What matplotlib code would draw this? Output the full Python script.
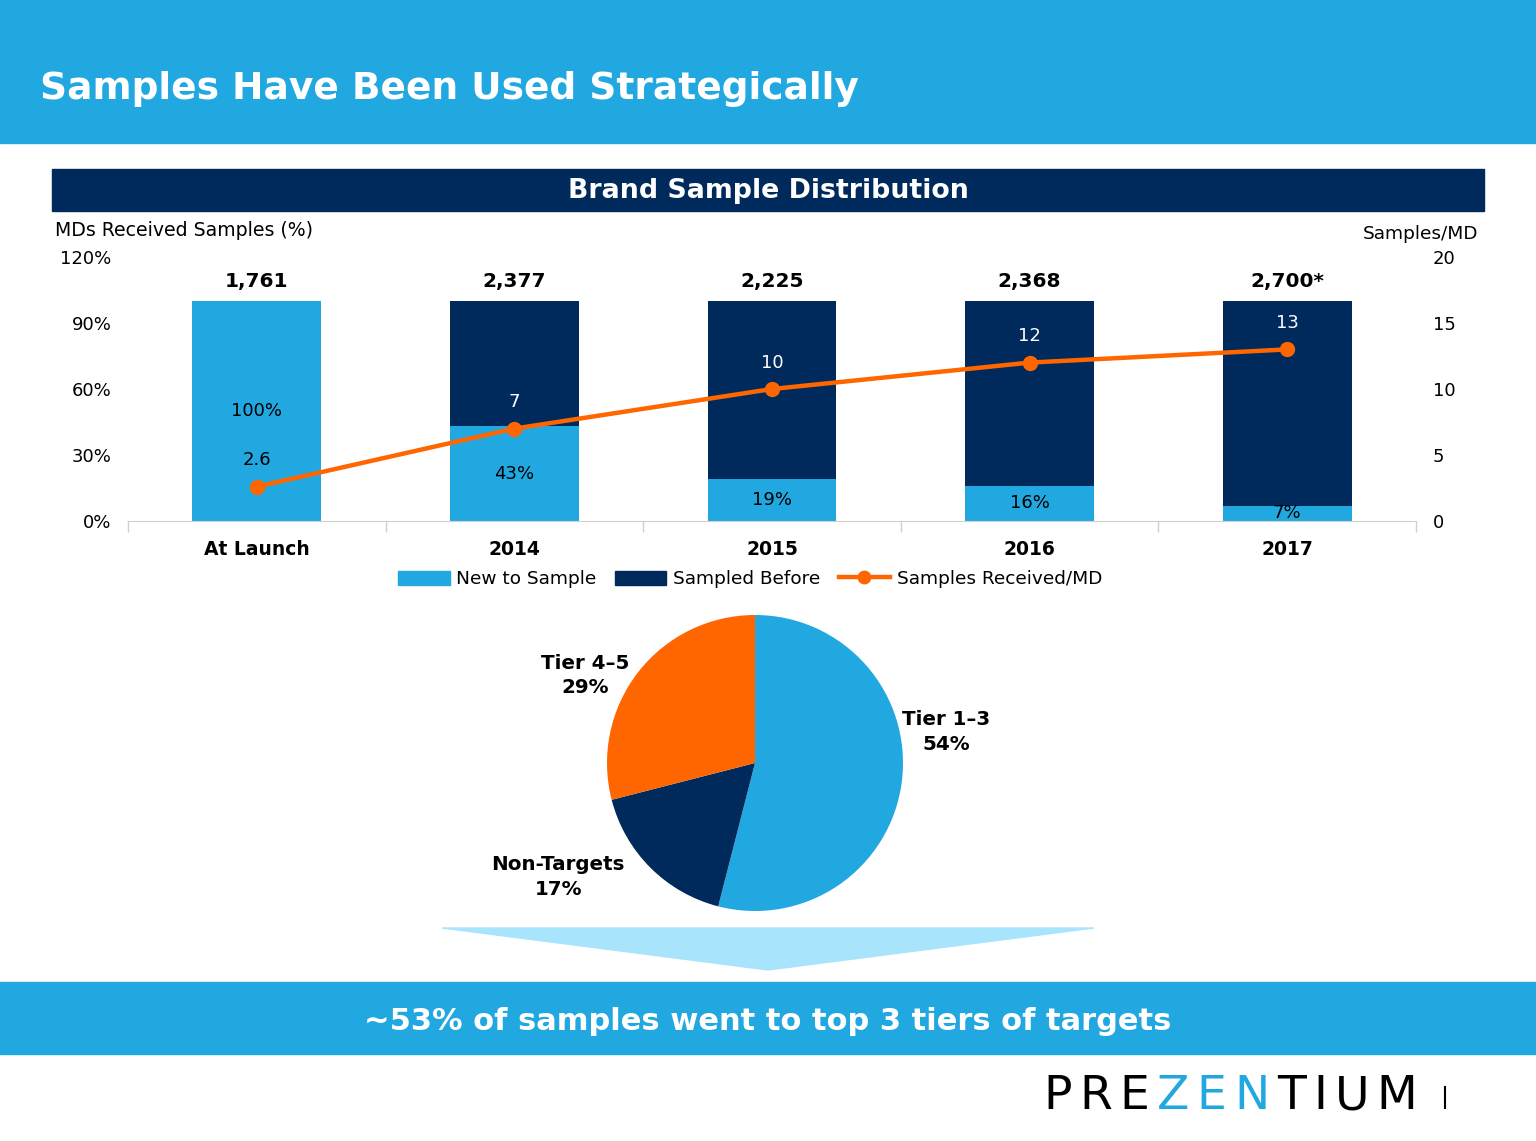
import matplotlib
matplotlib.use("Agg")
import matplotlib.pyplot as plt
from matplotlib.patches import Rectangle, Polygon, Patch
from matplotlib.lines import Line2D

plt.rcParams['font.family'] = ['DejaVu Sans']

# ---------------- data ----------------
categories = ["At Launch", "2014", "2015", "2016", "2017"]
new_to_sample = [100, 43, 19, 16, 7]
sampled_before = [0, 57, 81, 84, 93]
samples_per_md = [2.6, 7, 10, 12, 13]
samples_per_md_labels = ["2.6", "7", "10", "12", "13"]
totals = ["1,761", "2,377", "2,225", "2,368", "2,700*"]
left_ticks = [0, 30, 60, 90, 120]
right_ticks = [0, 5, 10, 15, 20]

pie_labels = ["Tier 1\u20133", "Non-Targets", "Tier 4\u20135"]
pie_values = [54, 17, 29]

title = "Samples Have Been Used Strategically"
chart_title = "Brand Sample Distribution"
footer = "~53% of samples went to top 3 tiers of targets"
logo_parts = [("PRE", "black"), ("ZEN", "#22A8E0"), ("TIUM", "black")]

# ---------------- colours ----------------
LBLUE = "#22A8E0"
NAVY = "#002A5C"
ORANGE = "#FF6600"
ARROW = "#A8E4FB"

W, H = 1536, 1141
fig = plt.figure(figsize=(W / 100, H / 100), dpi=100)


def fx(x):
    return x / W


def fy(y):
    return 1 - y / H


def rect(x0, y0, x1, y1, color):
    fig.patches.append(Rectangle((fx(x0), fy(y1)), fx(x1) - fx(x0), fy(y0) - fy(y1),
                                 transform=fig.transFigure, color=color, zorder=0))


# top banner
rect(0, 0, W, 143, LBLUE)
fig.text(fx(40), fy(99), title, color="white", fontsize=27, fontweight="bold",
         ha="left", va="baseline")

# chart title banner
rect(52, 169, 1484, 211, NAVY)
fig.text(fx(768), fy(191), chart_title, color="white", fontsize=19.3, fontweight="bold",
         ha="center", va="center")

# ---------------- bar + line chart ----------------
ax = fig.add_axes([fx(128), fy(521), fx(1416) - fx(128), fy(257) - fy(521)])
xs = list(range(len(categories)))
ax.bar(xs, new_to_sample, width=0.5, color=LBLUE, zorder=2)
ax.bar(xs, sampled_before, width=0.5, bottom=new_to_sample, color=NAVY, zorder=2)
ax.set_xlim(-0.5, len(categories) - 0.5)
ax.set_ylim(0, 120)
ax.set_yticks(left_ticks)
ax.set_yticklabels([f"{v}%" for v in left_ticks])
ax.tick_params(axis="y", length=0, pad=12, labelsize=13)
ax.set_xticks(xs)
ax.set_xticklabels(categories, fontweight="bold", fontsize=13.5)
ax.tick_params(axis="x", which="major", length=0, pad=14)
ax.set_xticks([x - 0.5 for x in range(len(categories) + 1)], minor=True)
ax.tick_params(axis="x", which="minor", length=8, color="#D0D0D0", width=1)
for s in ["top", "left", "right"]:
    ax.spines[s].set_visible(False)
ax.spines["bottom"].set_color("#D0D0D0")
ax.patch.set_alpha(0)

for x, v in zip(xs, new_to_sample):
    ax.text(x, v / 2, f"{v}%", ha="center", va="center", fontsize=13, color="black", zorder=5)
for x, nv, sv, t in zip(xs, new_to_sample, sampled_before, totals):
    ax.annotate(t, (x, nv + sv), xytext=(0, 14), textcoords="offset points",
                ha="center", va="center", fontsize=14.5, fontweight="bold")

ax2 = ax.twinx()
ax2.set_ylim(0, 20)
ax2.set_yticks(right_ticks)
ax2.tick_params(axis="y", length=0, pad=12, labelsize=13)
for s in ["top", "left", "right", "bottom"]:
    ax2.spines[s].set_visible(False)
ax2.plot(xs, samples_per_md, color=ORANGE, lw=3.2, marker="o", markersize=10, zorder=4)
for i, (x, v, lab) in enumerate(zip(xs, samples_per_md, samples_per_md_labels)):
    col = "black" if i == 0 else "white"
    ax2.annotate(lab, (x, v), xytext=(0, 19), textcoords="offset points",
                 ha="center", va="center", fontsize=13, color=col)

fig.text(fx(55), fy(231), "MDs Received Samples (%)", fontsize=13.6, ha="left", va="center")
fig.text(fx(1478), fy(234), "Samples/MD", fontsize=13.3, ha="right", va="center")

handles = [Patch(color=LBLUE, label="New to Sample"),
           Patch(color=NAVY, label="Sampled Before"),
           Line2D([], [], color=ORANGE, lw=3.2, marker="o", markersize=9,
                  label="Samples Received/MD")]
fig.legend(handles=handles, loc="center", bbox_to_anchor=(fx(750), fy(579)), ncol=3,
           frameon=False, fontsize=13.3, handlelength=2.8, handleheight=0.8,
           columnspacing=1.0, handletextpad=0.35)

# ---------------- pie ----------------
r = 148
pax = fig.add_axes([fx(755 - r), fy(763 + r), fx(2 * r), fx(2 * r) * W / H])
pax.pie(pie_values, colors=[LBLUE, NAVY, ORANGE], startangle=90, counterclock=False,
        radius=1, wedgeprops=dict(linewidth=0))
pax.set_xlim(-1, 1)
pax.set_ylim(-1, 1)
pax.set_aspect("equal")
pax.axis("off")
label_pos = [(1.29, 0.21), (-1.33, -0.77), (-1.15, 0.59)]
for (lx, ly), name, v in zip(label_pos, pie_labels, pie_values):
    pax.text(lx, ly, f"{name}\n{v}%", ha="center", va="center", fontsize=14.3,
             fontweight="bold", linespacing=1.35)

# arrow
fig.patches.append(Polygon([(fx(442), fy(928)), (fx(1094), fy(928)), (fx(768), fy(970))],
                           closed=True, transform=fig.transFigure, color=ARROW, zorder=0))

# bottom banner
rect(0, 982, W, 1054, LBLUE)
fig.text(fx(768), fy(1021), footer, color="white", fontsize=22, fontweight="bold",
         ha="center", va="center")

# logo (letter-spaced)
renderer = fig.canvas.get_renderer()
x_cur = 1043
spacing = 7.5
for part, col in logo_parts:
    for ch in part:
        t = fig.text(fx(x_cur), fy(1109), ch, color=col, fontsize=34,
                     ha="left", va="baseline")
        bb = t.get_window_extent(renderer=renderer)
        x_cur += bb.width + spacing
fig.add_artist(Line2D([fx(1445), fx(1445)], [fy(1087), fy(1108)], color="black", lw=1.5,
                      transform=fig.transFigure))

fig.savefig("out.png", dpi=100)
